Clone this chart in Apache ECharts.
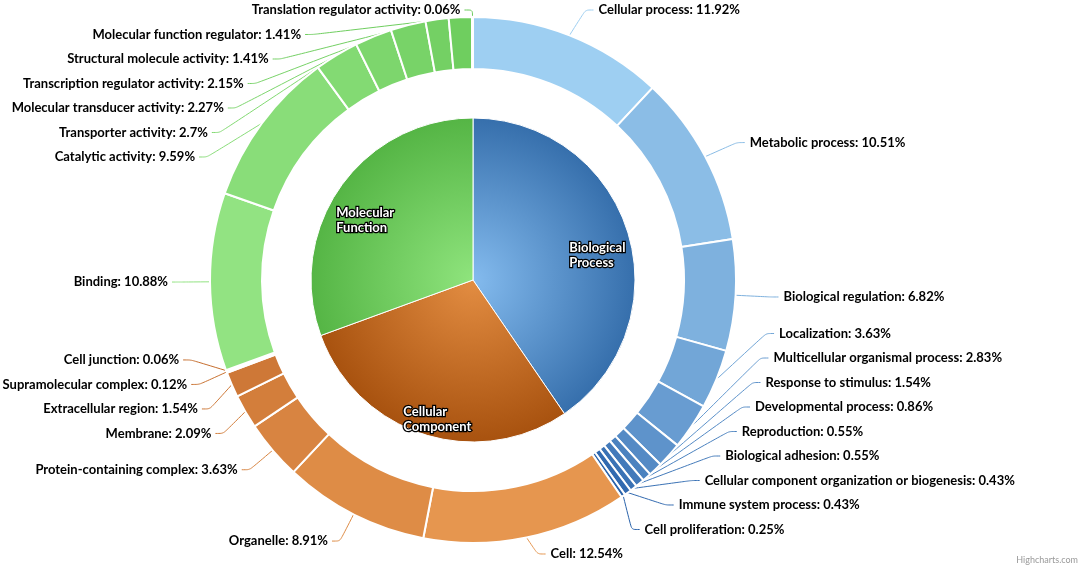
<!DOCTYPE html>
<html>
<head>
<meta charset="utf-8">
<script src="https://cdn.jsdelivr.net/npm/echarts@6/dist/echarts.min.js"></script>
<style>
  html, body { margin: 0; padding: 0; background: #fff; }
  #chart { width: 1084px; height: 570px; }
</style>
</head>
<body>
<div id="chart"></div>
<script>
// 数据
var categories = ['Biological Process', 'Cellular Component', 'Molecular Function'];

var bpNames = ['Cellular process', 'Metabolic process', 'Biological regulation', 'Localization',
  'Multicellular organismal process', 'Response to stimulus', 'Developmental process',
  'Reproduction', 'Biological adhesion', 'Cellular component organization or biogenesis',
  'Immune system process', 'Cell proliferation'];
var bpValues = [11.92, 10.51, 6.82, 3.63, 2.83, 1.54, 0.86, 0.55, 0.55, 0.43, 0.43, 0.25];

var ccNames = ['Cell', 'Organelle', 'Protein-containing complex', 'Membrane',
  'Extracellular region', 'Supramolecular complex', 'Cell junction'];
var ccValues = [12.54, 8.91, 3.63, 2.09, 1.54, 0.12, 0.06];

var mfNames = ['Binding', 'Catalytic activity', 'Transporter activity', 'Molecular transducer activity',
  'Transcription regulator activity', 'Structural molecule activity',
  'Molecular function regulator', 'Translation regulator activity'];
var mfValues = [10.88, 9.59, 2.7, 2.27, 2.15, 1.41, 1.41, 0.06];

// 尺寸
var CX = 473, CY = 280;
var R_IN = 162, R0 = 211, R1 = 263;
var LABEL_DIST = 30, LABEL_H = 24.5, TOP_Y = 10, BOTTOM_Y = 554;

// 颜色
var innerColors = [
  ['#84bbee', '#366fac'],
  ['#e38d42', '#a8520f'],
  ['#8fe47d', '#55b545']
];
var ringColors = [
  ['#9ecff2', '#2a63ab'],
  ['#e6964f', '#c66e2e'],
  ['#92e382', '#6bcb5b']
];

function hex2rgb(h) {
  return [parseInt(h.substr(1, 2), 16), parseInt(h.substr(3, 2), 16), parseInt(h.substr(5, 2), 16)];
}
function mix(a, b, t) {
  var x = hex2rgb(a), y = hex2rgb(b);
  return 'rgb(' + [0, 1, 2].map(function (i) { return Math.round(x[i] + (y[i] - x[i]) * t); }).join(',') + ')';
}
function radial(c0, c1, r) {
  return {
    type: 'radial', x: CX, y: CY, r: r, global: true,
    colorStops: [{ offset: 0, color: c0 }, { offset: 1, color: c1 }]
  };
}
function sum(arr) {
  return arr.reduce(function (a, b) { return a + b; }, 0);
}

var groups = [[bpNames, bpValues], [ccNames, ccValues], [mfNames, mfValues]];

// 内圈标签偏移
var innerOffsets = [[51, 0], [-9, 59], [-33, -12]];

var innerData = categories.map(function (name, i) {
  return {
    name: name,
    value: +sum(groups[i][1]).toFixed(2),
    itemStyle: { color: radial(innerColors[i][0], innerColors[i][1], R_IN) },
    label: { offset: innerOffsets[i] }
  };
});

var outerData = [];
groups.forEach(function (g, gi) {
  var n = g[0].length;
  g[0].forEach(function (name, j) {
    var t = Math.pow(j / (n - 1), 0.75);
    var c = mix(ringColors[gi][0], ringColors[gi][1], t);
    outerData.push({
      name: name,
      value: g[1][j],
      itemStyle: { color: c },
      labelLine: { lineStyle: { color: c } }
    });
  });
});

// 外圈标签布局（类似 Highcharts 的分布方式）
var outerLayout = [];
(function () {
  var total = sum(outerData.map(function (d) { return d.value; }));
  var R = R1 + LABEL_DIST;
  var acc = 0;
  var sides = { left: [], right: [] };
  outerData.forEach(function (d, i) {
    var a = (acc + d.value / 2) / total * Math.PI * 2;
    acc += d.value;
    var item = { idx: i, a: a, right: Math.sin(a) >= 0, t: CY - R * Math.cos(a) };
    outerLayout[i] = item;
    sides[item.right ? 'right' : 'left'].push(item);
  });

  function distribute(list) {
    list.sort(function (p, q) { return p.t - q.t; });
    var gs = list.map(function (it) { return { items: [it] }; });
    function place(g) {
      var size = g.items.length * LABEL_H;
      var mean = sum(g.items.map(function (it) { return it.t; })) / g.items.length;
      var pos = mean - size / 2;
      pos = Math.max(pos, TOP_Y - LABEL_H / 2);
      pos = Math.min(pos, BOTTOM_Y + LABEL_H / 2 - size);
      g.pos = pos;
      g.size = size;
    }
    gs.forEach(place);
    var merged = true;
    while (merged) {
      merged = false;
      for (var k = 0; k < gs.length - 1; k++) {
        if (gs[k].pos + gs[k].size > gs[k + 1].pos + 0.01) {
          gs[k].items = gs[k].items.concat(gs[k + 1].items);
          gs.splice(k + 1, 1);
          place(gs[k]);
          merged = true;
          break;
        }
      }
    }
    gs.forEach(function (g) {
      g.items.forEach(function (it, k) {
        it.y = g.pos + LABEL_H / 2 + k * LABEL_H;
      });
    });
  }
  distribute(sides.left);
  distribute(sides.right);

  outerLayout.forEach(function (it) {
    var dir = it.right ? 1 : -1;
    var yy = (it.y <= TOP_Y + 1 || it.y >= BOTTOM_Y - 1) ? it.t : it.y;
    var s = Math.max(-1, Math.min(1, (yy - CY) / R));
    var cx = CX + dir * Math.cos(Math.asin(s)) * R;
    var ex = CX + R1 * Math.sin(it.a), ey = CY - R1 * Math.cos(it.a);
    var lx = cx + dir * (it.right ? 13 : 8);
    it.tx = cx + dir * (it.right ? 18 : 12);
    it.line = [[ex, ey], [lx - dir * 8, it.y], [lx, it.y]];
  });
})();

var chart = echarts.init(document.getElementById('chart'));

chart.setOption({
  backgroundColor: '#ffffff',
  animation: false,
  graphic: [{
    type: 'text',
    right: 6,
    bottom: 5,
    style: { text: 'Highcharts.com', fill: '#999999', fontSize: 9, fontFamily: 'Lato' }
  }],
  series: [{
    name: 'Category',
    type: 'pie',
    center: [CX, CY],
    radius: [0, R_IN],
    startAngle: 90,
    avoidLabelOverlap: false,
    itemStyle: { borderColor: '#ffffff', borderWidth: 1 },
    label: {
      position: 'inner',
      formatter: function (p) {
        return p.name.split(' ').map(function (w) { return '{a|' + w + '}'; }).join('\n');
      },
      rich: {
        a: {
          width: 70,
          align: 'left',
          color: '#ffffff',
          fontFamily: 'Lato',
          fontWeight: 'bold',
          fontSize: 13,
          lineHeight: 15,
          textBorderColor: '#000000',
          textBorderWidth: 2.5
        }
      }
    },
    labelLine: { show: false },
    data: innerData
  }, {
    name: 'Subcategory',
    type: 'pie',
    center: [CX, CY],
    radius: [R0, R1],
    startAngle: 90,
    minShowLabelAngle: 0,
    avoidLabelOverlap: false,
    itemStyle: { borderColor: '#ffffff', borderWidth: 2 },
    label: {
      formatter: '{b}: {c}%',
      color: '#000000',
      fontFamily: 'Lato',
      fontWeight: 'bold',
      fontSize: 13
    },
    labelLine: {
      show: true,
      smooth: 0.25,
      lineStyle: { width: 1 }
    },
    labelLayout: function (p) {
      var L = outerLayout[p.dataIndex];
      return {
        x: L.tx,
        y: L.y,
        align: L.right ? 'left' : 'right',
        verticalAlign: 'middle',
        labelLinePoints: L.line
      };
    },
    data: outerData
  }]
});
</script>
</body>
</html>
